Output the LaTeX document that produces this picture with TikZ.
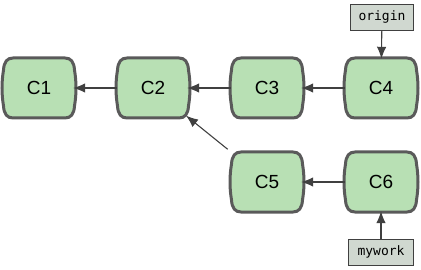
\documentclass[tikz,border=0pt]{standalone}
\usepackage{fontspec}
\setmainfont{Liberation Sans}
\newfontfamily\monofont{DejaVu Sans Mono}
\usetikzlibrary{arrows.meta}
\definecolor{cfill}{HTML}{B8E0B4}
\definecolor{cline}{HTML}{5A5A5A}
\definecolor{lfill}{HTML}{D0D8D0}
\definecolor{aline}{HTML}{404040}
\tikzset{
  commitshape/.style={fill=cfill, draw=cline, line width=3pt},
  commitnode/.style={minimum width=72pt, minimum height=60pt, inner sep=0pt, font=\fontsize{19}{22}\selectfont},
  refbox/.style={draw=aline, fill=lfill, line width=0.8pt, minimum width=63pt, minimum height=26pt, inner sep=0pt, font=\monofont\fontsize{13}{15}\selectfont},
  link/.style={draw=aline, line width=1.1pt, -{Latex[length=12pt,width=9.5pt]}}
}
\newcommand{\commitat}[4]{%
  \path[commitshape, shift={(#2,#3)}]
    (-26,-30) -- (26,-30) .. controls (32,-30) and (35,-26) .. (35.5,-18)
    .. controls (37.5,-6) and (37.5,6) .. (35.5,18)
    .. controls (35,26) and (32,30) .. (26,30) -- (-26,30)
    .. controls (-32,30) and (-35,26) .. (-35.5,18)
    .. controls (-37.5,6) and (-37.5,-6) .. (-35.5,-18)
    .. controls (-35,-26) and (-32,-30) .. (-26,-30) -- cycle;
  \node[commitnode] (#1) at (#2,#3) {#4};%
}
\begin{document}
\begin{tikzpicture}[x=1pt,y=-1pt]
\useasboundingbox (0,0) rectangle (421,270);
\commitat{C1}{39}{88}{C1}
\commitat{C2}{153}{88}{C2}
\commitat{C3}{267}{88}{C3}
\commitat{C4}{381}{88}{C4}
\commitat{C5}{267}{182}{C5}
\commitat{C6}{381}{182}{C6}
\node[refbox] (origin) at (382,17) {origin};
\node[refbox, minimum width=65pt] (mywork) at (381,252) {mywork};
\draw[link, shorten >=-2pt] (C2) -- (C1);
\draw[link, shorten >=-2pt] (C3) -- (C2);
\draw[link, shorten >=-2pt] (C4) -- (C3);
\draw[link, shorten >=-2pt] (C6) -- (C5);
\draw[link, shorten <=4pt, shorten >=-4pt] (C5.north west) -- (C2.south east);
\draw[link, shorten >=-1pt] (origin) -- (C4);
\draw[link, shorten >=-1pt] (mywork) -- (C6);
\end{tikzpicture}
\end{document}
